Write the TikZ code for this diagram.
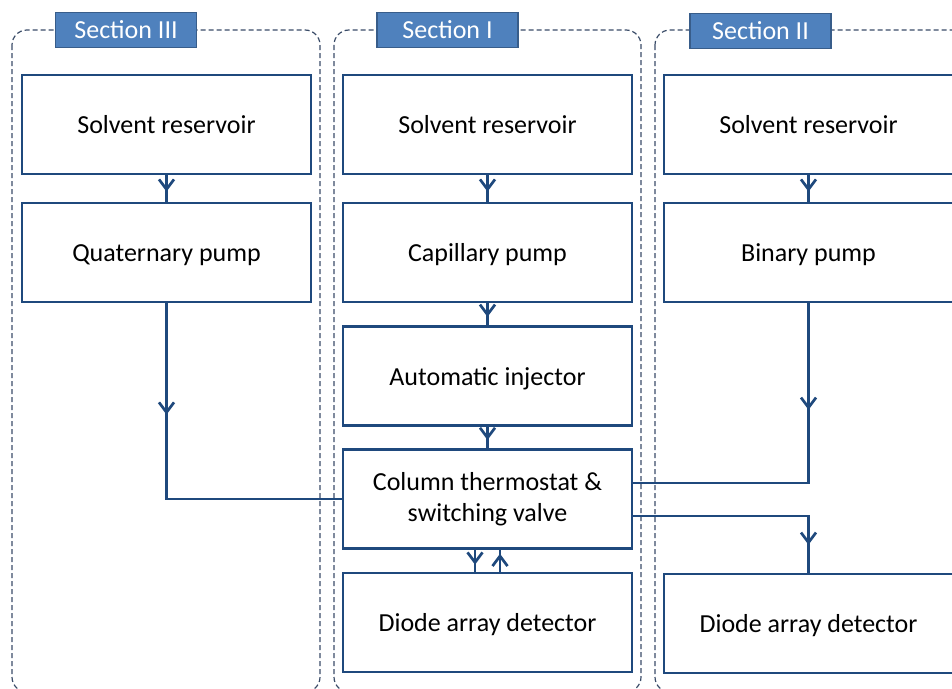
\documentclass[tikz,border=0pt]{standalone}
\usepackage{fontspec}
\setmainfont{Carlito}
\usepackage{tikz}
\usetikzlibrary{positioning, arrows.meta, decorations.markings, calc}
\definecolor{flowblue}{RGB}{31,73,125}
\definecolor{tagblue}{RGB}{79,129,189}
\definecolor{tagedge}{RGB}{56,93,138}
\definecolor{secgray}{RGB}{58,76,104}

\begin{document}
\begin{tikzpicture}[x=1pt, y=-1pt,
  box/.style={rectangle, draw=flowblue, line width=2.8pt, fill=white,
    minimum width=289pt, minimum height=99pt, align=center,
    font=\fontsize{26}{31}\selectfont, inner sep=4pt,
    text height=20pt, text depth=2pt},
  twoline/.style={box, text height=, text depth=},
  tag/.style={rectangle, draw=tagedge, fill=tagblue, line width=1.6pt,
    minimum width=141pt, minimum height=35pt, text=white,
    font=\fontsize{26}{30}\selectfont, inner sep=2pt},
  sect/.style={draw=secgray, line width=1.2pt, dash pattern=on 5pt off 3pt,
    rounded corners=15pt},
  flow/.style={draw=flowblue, line width=2.7pt},
  midarr/.style={flow, postaction={decorate},
    decoration={markings, mark=at position #1 with
      {\arrow{Straight Barb[length=10pt, width=15pt]}}}},
]
  \useasboundingbox (0,0) rectangle (952,688);

  % dashed section frames
  \draw[sect] (12,30) rectangle (320,692);
  \draw[sect] (334,30) rectangle (641,692);
  \draw[sect] (655,30) rectangle (968,692);

  \node[tag] (tag3) at (126,30) {Section III};
  \node[tag] (tag1) at (447.5,30) {Section I};
  \node[tag] (tag2) at (760.5,31) {Section II};

  % section III
  \node[box] (res3)  at (166.5,124.5) {Solvent reservoir};
  \node[box] (pump3) at (166.5,252.5) {Quaternary pump};

  % section I
  \node[box] (res1)   at (487.5,124.5) {Solvent reservoir};
  \node[box] (pump1)  at (487.5,252.5) {Capillary pump};
  \node[box] (inj)    at (487.5,376)   {Automatic injector};
  \node[twoline] (therm) at (487.5,499) {Column thermostat \&\\switching valve};
  \node[box] (diode1) at (487.5,622.5) {Diode array detector};

  % section II
  \node[box] (res2)   at (808.5,124.5) {Solvent reservoir};
  \node[box] (pump2)  at (808.5,252.5) {Binary pump};
  \node[box] (diode2) at (808.5,623.5) {Diode array detector};

  % short links
  \draw[midarr=0.62] (res3.south) -- (pump3.north);
  \draw[midarr=0.62] (res1.south) -- (pump1.north);
  \draw[midarr=0.62] (pump1.south) -- (inj.north);
  \draw[midarr=0.62] (inj.south) -- (therm.north);
  \draw[midarr=0.62] (res2.south) -- (pump2.north);

  % pumps into the valve
  \draw[midarr=0.3] (pump3.south) |- (therm.west);
  \draw[midarr=0.3] (pump2.south) |- ([yshift=16pt]therm.east);

  % valve to detectors
  \draw[midarr=0.88] ([yshift=-17pt]therm.east) -| (diode2.north);
  \draw[midarr=0.68] ([xshift=-12.5pt]therm.south) -- ([xshift=-12.5pt]diode1.north);
  \draw[midarr=0.82] ([xshift=12.5pt]diode1.north) -- ([xshift=12.5pt]therm.south);
\end{tikzpicture}
\end{document}
